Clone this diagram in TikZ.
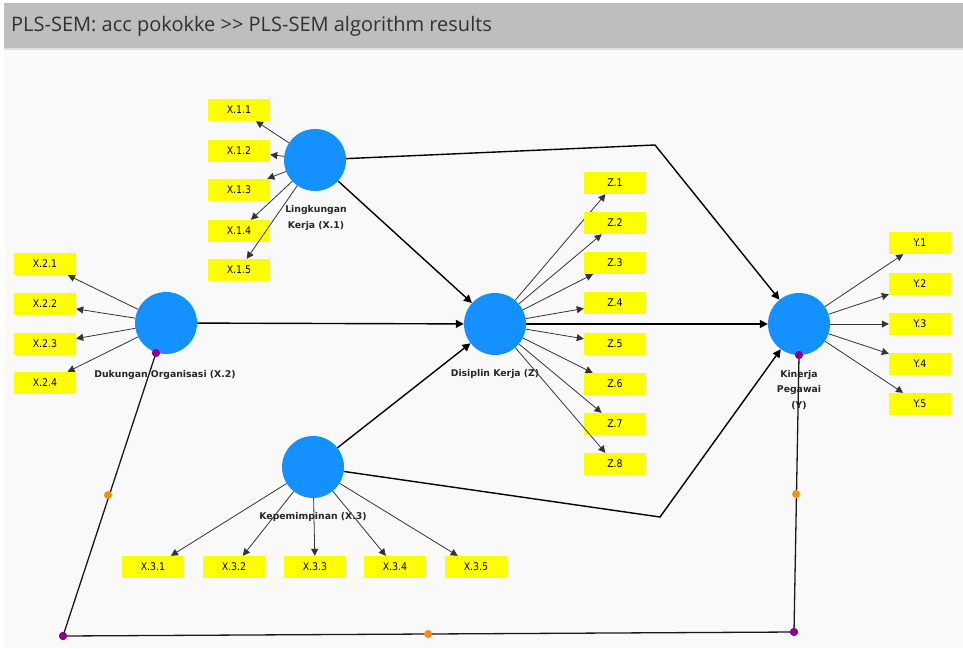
\documentclass[tikz,border=0pt]{standalone}
\usepackage{fontspec}
\setmainfont{DejaVu Sans}
\newfontfamily\titlefont{Open Sans}
\newfontfamily\boxfont{DejaVu Sans Condensed}
\usetikzlibrary{arrows.meta}
\definecolor{lvblue}{RGB}{20,145,255}
\definecolor{indyellow}{RGB}{255,255,0}
\definecolor{titlegray}{RGB}{190,190,190}
\definecolor{canvasbg}{RGB}{249,249,249}
\definecolor{dotpurple}{RGB}{140,0,140}
\definecolor{dotorange}{RGB}{255,140,20}
\definecolor{titletext}{RGB}{50,50,50}
\tikzset{
  lv/.style={circle, fill=lvblue, draw=none, minimum size=62pt, inner sep=0pt},
  ind/.style={rectangle, fill=indyellow, draw=none, minimum width=62pt, minimum height=22pt, inner sep=0pt, font=\boxfont\fontsize{10.5}{11}\selectfont},
  lab/.style={align=center, font=\bfseries\fontsize{9.3}{15.5}\selectfont, text=black!85, inner sep=0pt},
  outer/.style={draw=black!80, line width=0.8pt, -{Triangle[length=7pt,width=7pt]}},
  inner/.style={draw=black, line width=1.4pt, -{Triangle[length=8pt,width=8pt]}},
  modline/.style={draw=black!90, line width=1.3pt},
  pdot/.style={circle, fill=dotpurple, minimum size=8pt, inner sep=0pt},
  odot/.style={circle, fill=dotorange, minimum size=8pt, inner sep=0pt}
}
\begin{document}
\begin{tikzpicture}[x=1pt,y=-1pt]
\useasboundingbox (0,0) rectangle (963,648);
\fill[white] (0,0) rectangle (963,648);
\fill[titlegray] (4,3) rectangle (963,48);
\fill[canvasbg] (4,48) rectangle (963,648);
\draw[black!12, line width=1.5pt] (4,49) -- (963,49);
\node[anchor=west, text=titletext, font=\titlefont\fontsize{20}{24}\selectfont, inner sep=0pt] (title) at (11,26) {PLS-SEM: acc pokokke >> PLS-SEM algorithm results};

% latent variables
\node[lv] (X1) at (315,160) {};
\node[lv] (X2) at (166,323) {};
\node[lv] (Z) at (495,324) {};
\node[lv] (X3) at (313,467) {};
\node[lv] (Y) at (799,324) {};

% labels
\node[lab] (lX1) at (316,218) {Lingkungan\\Kerja (X.1)};
\node[lab] (lX2) at (165,375) {Dukungan Organisasi (X.2)};
\node[lab] (lZ) at (495,374) {Disiplin Kerja (Z)};
\node[lab] (lX3) at (313,517) {Kepemimpinan (X.3)};
\node[lab] (lY) at (799,390) {Kinerja\\Pegawai\\(Y)};

% indicators X.1
\foreach \i/\y in {1/110,2/151,3/190,4/231,5/270} {
  \node[ind] (x1\i) at (239,\y) {X.1.\i};
  \draw[outer] (X1) -- (x1\i);
}
% indicators X.2
\foreach \i/\y in {1/264,2/304,3/344,4/383} {
  \node[ind] (x2\i) at (45,\y) {X.2.\i};
  \draw[outer] (X2) -- (x2\i);
}
% indicators Z
\foreach \i/\y in {1/183,2/223,3/263,4/303,5/344,6/384,7/424,8/464} {
  \node[ind] (z\i) at (615,\y) {Z.\i};
  \draw[outer] (Z) -- (z\i);
}
% indicators Y
\foreach \i/\y in {1/243,2/284,3/324,4/364,5/404} {
  \node[ind] (y\i) at (920,\y) {Y.\i};
  \draw[outer] (Y) -- (y\i);
}
% indicators X.3
\foreach \i/\x in {1/153,2/234,3/315,4/395,5/476} {
  \node[ind] (x3\i) at (\x,567) {X.3.\i};
  \draw[outer] (X3) -- (x3\i);
}

% structural paths
\coordinate (b1) at (655,145);
\coordinate (b2) at (660,517);
\draw[inner] (X1) -- (b1) -- (Y);
\draw[inner] (X1) -- (Z);
\draw[inner] (X2) -- (Z);
\draw[inner] (X3) -- (Z);
\draw[inner] (Z) -- (Y);
\draw[inner] (X3) -- (b2) -- (Y);

% moderating path
\node[pdot] (d1) at (156,353) {};
\node[pdot] (d2) at (63,636) {};
\node[pdot] (d3) at (794,632) {};
\node[pdot] (d4) at (799,355) {};
\draw[modline] (d1.center) -- (d2.center) -- (d3.center) -- (d4.center);
\node[pdot] at (d1) {};
\node[pdot] at (d2) {};
\node[pdot] at (d3) {};
\node[pdot] at (d4) {};
\node[odot] (o1) at (108,495) {};
\node[odot] (o2) at (428,634) {};
\node[odot] (o3) at (796,494) {};
\end{tikzpicture}
\end{document}
